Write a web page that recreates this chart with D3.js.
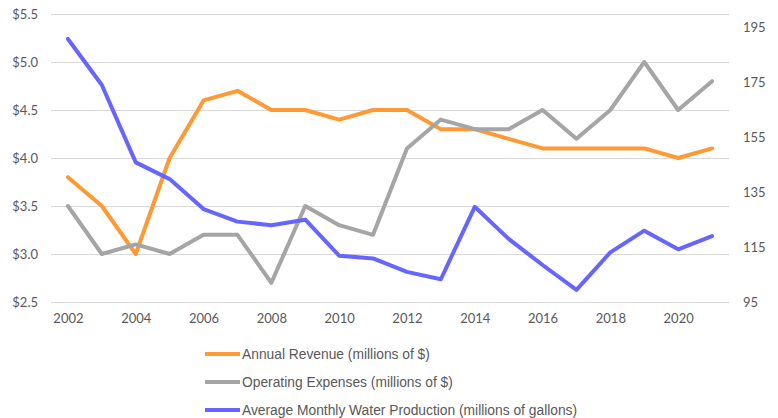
<!DOCTYPE html>
<meta charset="utf-8">
<style type="text/css">
body { margin: 0; background: #fff; }
.tick text { font-family: Lato, "Liberation Sans", sans-serif; font-size: 13px; fill: #595959; }
.legend text { font-family: "Liberation Sans", sans-serif; font-size: 13.8px; fill: #595959; }
.line { fill: none; stroke-width: 4; stroke-linejoin: round; stroke-linecap: round; }
</style>
<body>
</body>
<script src="https://d3js.org/d3.v7.min.js"></script>
<script>

var years = d3.range(2002, 2022);
var revenue = [3.8, 3.5, 3.0, 4.0, 4.6, 4.7, 4.5, 4.5, 4.4, 4.5, 4.5, 4.3, 4.3, 4.2, 4.1, 4.1, 4.1, 4.1, 4.0, 4.1];
var expenses = [3.5, 3.0, 3.1, 3.0, 3.2, 3.2, 2.7, 3.5, 3.3, 3.2, 4.1, 4.4, 4.3, 4.3, 4.5, 4.2, 4.5, 5.0, 4.5, 4.8];
var water = [190.9, 174.1, 145.9, 139.8, 128.9, 124.3, 123, 125, 111.9, 110.9, 106, 103.3, 129.7, 118, 108.5, 99.4, 113.1, 121, 114.2, 119];
var leftTicks = [2.5, 3.0, 3.5, 4.0, 4.5, 5.0, 5.5];
var rightTicks = [95, 115, 135, 155, 175, 195];
var xLabels = [2002, 2004, 2006, 2008, 2010, 2012, 2014, 2016, 2018, 2020];

var series = [
  { name: "Annual Revenue (millions of $)", values: revenue, color: "#FF9933", axis: "left" },
  { name: "Operating Expenses (millions of $)", values: expenses, color: "#A5A5A5", axis: "left" },
  { name: "Average Monthly Water Production (millions of gallons)", values: water, color: "#6666FF", axis: "right" }
];

var width = 778, height = 418;
var plotL = 51, plotR = 729, plotT = 14, plotB = 302;

var svg = d3.select("body").append("svg")
    .attr("width", width)
    .attr("height", height);

var x = d3.scalePoint()
    .domain(years)
    .range([plotL, plotR])
    .padding(0.5);

var yL = d3.scaleLinear().domain([2.5, 5.5]).range([plotB, plotT]);
var yR = d3.scaleLinear().domain([95, 200]).range([plotB, plotT]);

// gridlines + left axis
svg.append("g")
    .attr("transform", "translate(" + plotL + ",0)")
    .call(d3.axisLeft(yL).tickValues(leftTicks)
      .tickSize(-(plotR - plotL)).tickPadding(13)
      .tickFormat(function(d) { return "$" + d3.format(".1f")(d); }))
    .call(function(g) { g.select(".domain").remove(); })
    .call(function(g) { g.selectAll(".tick line").attr("stroke", "#d9d9d9").attr("stroke-width", 1); });

svg.append("g")
    .attr("transform", "translate(" + plotR + ",0)")
    .call(d3.axisRight(yR).tickValues(rightTicks).tickSize(0).tickPadding(14))
    .call(function(g) { g.select(".domain").remove(); });

svg.append("g")
    .attr("transform", "translate(0," + plotB + ")")
    .call(d3.axisBottom(x).tickValues(xLabels).tickSize(0).tickPadding(12))
    .call(function(g) { g.select(".domain").remove(); });

series.forEach(function(s) {
  var yy = s.axis === "left" ? yL : yR;
  var line = d3.line()
      .x(function(d, i) { return x(years[i]); })
      .y(function(d) { return yy(d); });
  svg.append("path")
      .datum(s.values)
      .attr("class", "line")
      .attr("stroke", s.color)
      .attr("d", line);
});

var legend = svg.append("g").attr("class", "legend")
  .selectAll("g")
  .data(series)
  .enter().append("g")
    .attr("transform", function(d, i) { return "translate(205," + (354 + i * 28) + ")"; });

legend.append("line")
    .attr("x1", 0).attr("x2", 35)
    .attr("stroke", function(d) { return d.color; })
    .attr("stroke-width", 4);

legend.append("text")
    .attr("x", 37)
    .attr("dy", "0.35em")
    .text(function(d) { return d.name; });

</script>
